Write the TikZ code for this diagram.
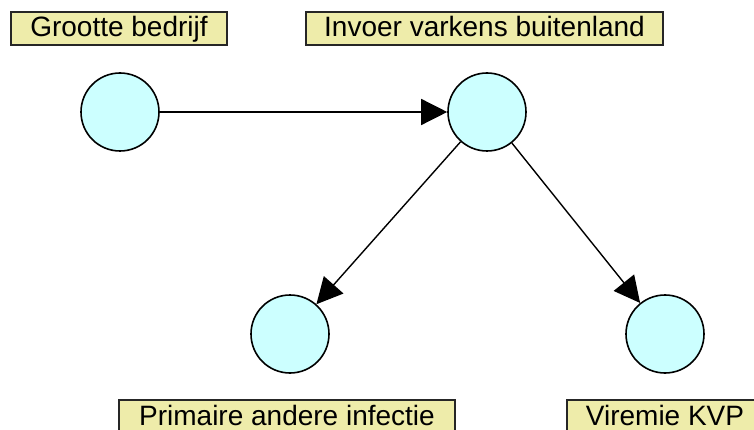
\documentclass[tikz,border=0pt]{standalone}
\usepackage{fontspec}
\setmainfont{Liberation Sans}
\usetikzlibrary{arrows.meta}
\definecolor{labelfill}{RGB}{238,236,170}
\definecolor{nodefill}{RGB}{204,255,255}
\begin{document}
\begin{tikzpicture}[x=1pt,y=-1pt,
  var/.style={circle,draw=black,line width=1.6pt,fill=nodefill,minimum size=78pt,inner sep=0pt},
  tag/.style={draw=black!85,line width=1.4pt,fill=labelfill,minimum height=33pt,inner sep=0pt,
    text height=20pt,text depth=3pt,font=\fontsize{28pt}{30pt}\selectfont},
  link/.style={line width=1.4pt,-{Triangle[length=26pt,width=26pt]}}]
\useasboundingbox (0,0) rectangle (754,430);
% variables
\node[var] (grootte) at (120,112) {};
\node[var] (invoer) at (487,112) {};
\node[var] (primair) at (290,334) {};
\node[var] (viremie) at (665,334) {};
% labels
\node[tag,minimum width=216pt] (lgrootte) at (119,28.5) {Grootte bedrijf};
\node[tag,minimum width=357pt] (linvoer) at (484.5,28.5) {Invoer varkens buitenland};
\node[tag,minimum width=336pt] (lprimair) at (287,416.5) {Primaire andere infectie};
\node[tag,minimum width=196pt] (lviremie) at (665,416.5) {Viremie KVP};
% dependencies
\draw[link] (grootte) -- (invoer);
\draw[link] (invoer) -- (primair);
\draw[link] (invoer) -- (viremie);
\end{tikzpicture}
\end{document}
